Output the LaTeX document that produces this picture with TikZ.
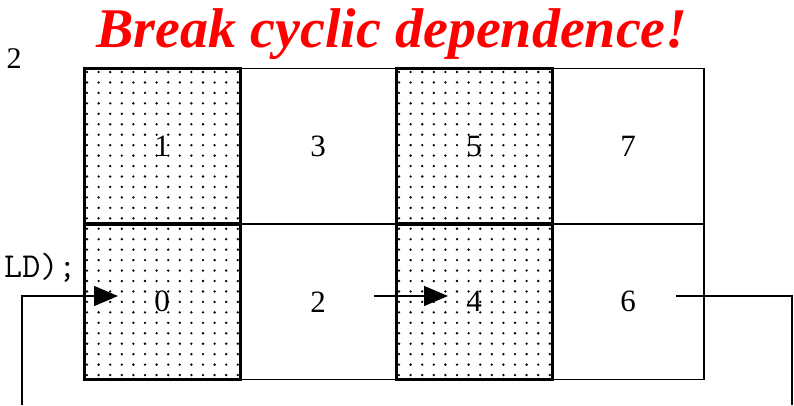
\documentclass[tikz,border=0pt]{standalone}
\usepackage{fontspec}
\setmainfont{Liberation Serif}
\usetikzlibrary{arrows.meta}
\begin{document}
\begin{tikzpicture}[x=1pt, y=-1pt, line width=1.3pt,
  cell/.style={draw, minimum width=156pt, minimum height=155.5pt, inner sep=0pt,
    font=\fontsize{31}{31}\selectfont},
  shaded/.style={cell, line width=3pt},
  flow/.style={-{Triangle[length=24pt, width=20pt]}}]
  \useasboundingbox (0,0) rectangle (794,405);
  % 점무늬 (1, 3번째 열)
  \foreach \x in {84,396}{
    \foreach \i in {0,...,13}{
      \foreach \j in {0,...,29}{
        \fill (\x+3+\i*11.6, 72+\j*10.45) circle (1.3pt);
      }
    }
  }
  % 흰 칸
  \node[cell] (c3) at (318,146) {3};
  \node[cell, minimum width=152pt] (c7) at (628,146) {7};
  \node[cell] (c2) at (318,301.75) {2};
  \node[cell, minimum width=152pt] (c6) at (628,301.75) {6};
  % 점무늬 칸
  \node[shaded] (c1) at (162,146) {1};
  \node[shaded] (c0) at (162,301.75) {0};
  \node[shaded] (c5) at (474,146) {5};
  \node[shaded] (c4) at (474,301.75) {4};
  % 제목과 잘린 글자
  \node[anchor=base, inner sep=0pt, text=red, font=\fontsize{56}{56}\selectfont\bfseries\itshape] (title) at (392,47) {Break cyclic dependence!};
  \node[font=\fontsize{30}{30}\selectfont] (pg) at (14,59) {2};
  \node[anchor=base east, inner sep=0pt, font=\ttfamily\fontsize{35}{35}\selectfont] (code) at (77,277) {LD);};
  % 화살표
  \coordinate (in0) at (22,405);
  \coordinate (t0) at (118,296);
  \coordinate (s2) at (374,296);
  \coordinate (t4) at (448,296);
  \coordinate (s6) at (676,296);
  \coordinate (out6) at (792,405);
  \draw[flow] (in0) |- (t0);
  \draw[flow] (s2) -- (t4);
  \draw (s6) -| (out6);
\end{tikzpicture}
\end{document}
